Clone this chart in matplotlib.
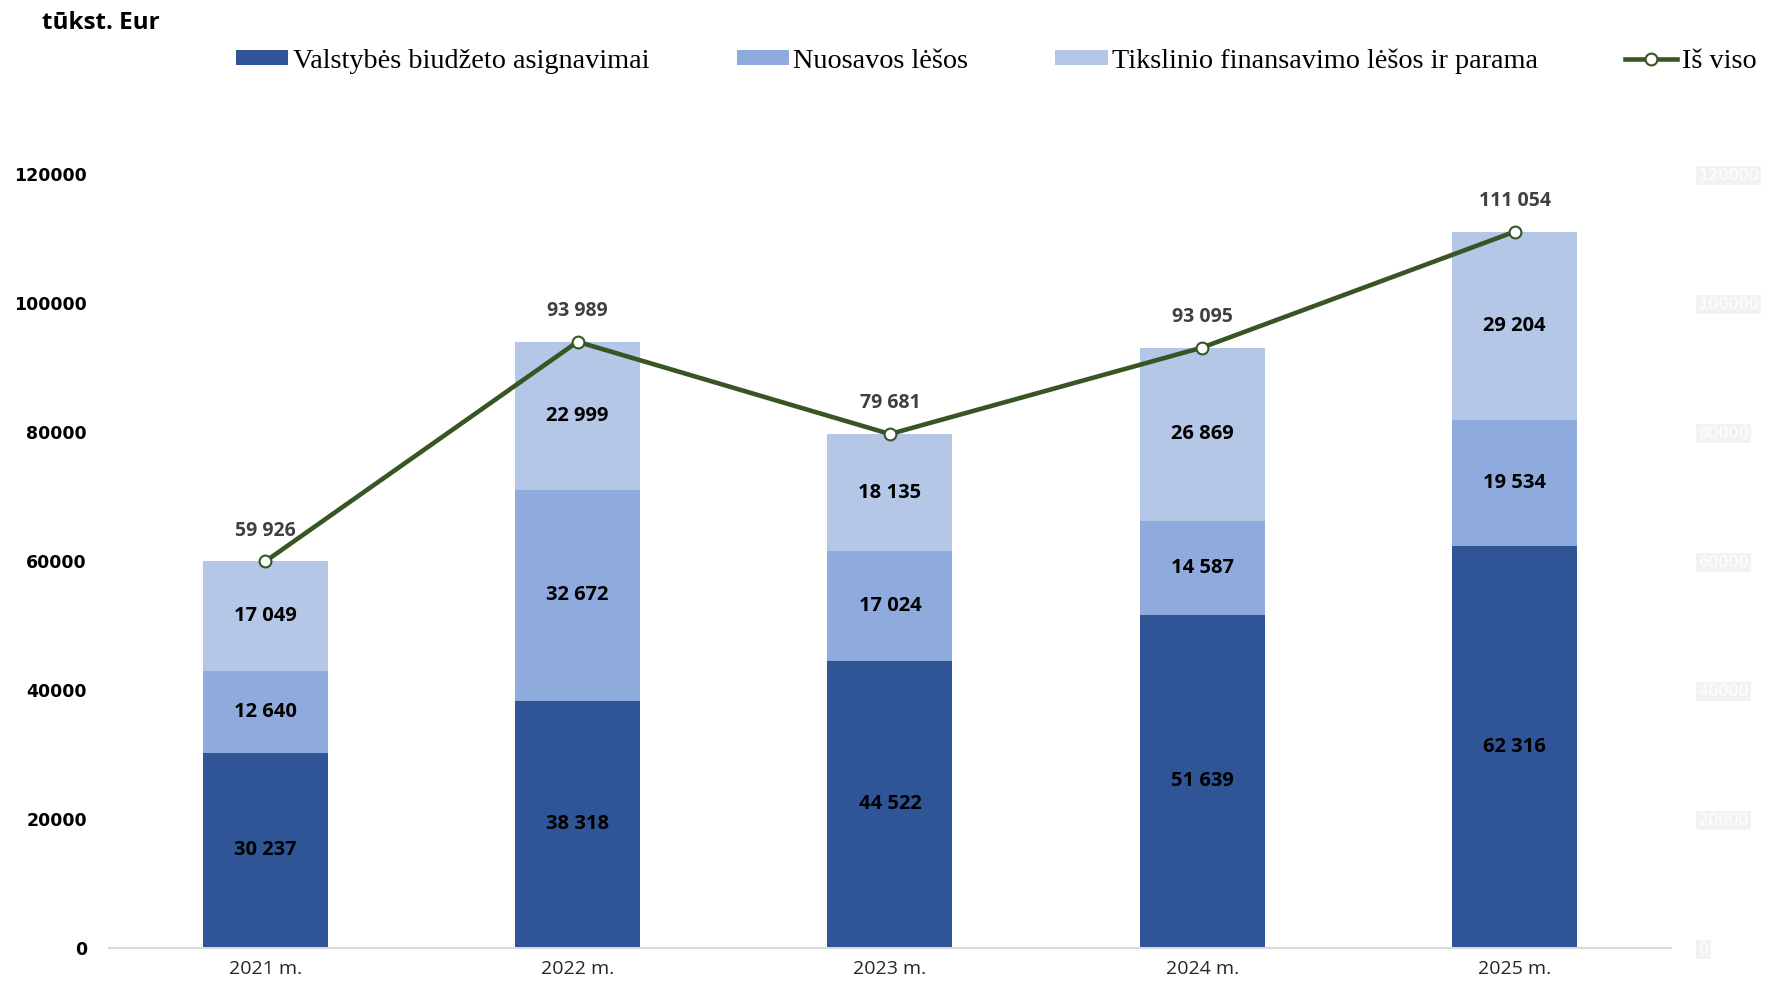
import matplotlib.pyplot as plt
import numpy as np

# duomenys (tūkst. Eur)
metai = ['2021 m.', '2022 m.', '2023 m.', '2024 m.', '2025 m.']
valstybes = [30237, 38318, 44522, 51639, 62316]
nuosavos = [12640, 32672, 17024, 14587, 19534]
tikslinio = [17049, 22999, 18135, 26869, 29204]
is_viso = [59926, 93989, 79681, 93095, 111054]

serijos = ['Valstybės biudžeto asignavimai', 'Nuosavos lėšos',
           'Tikslinio finansavimo lėšos ir parama']
spalvos = ['#2F5597', '#8FAADC', '#B4C7E7']

def fmt(v):
    return f'{v:,}'.replace(',', ' ')

fig = plt.figure(figsize=(17.68, 9.92), dpi=100)
ax = fig.add_axes([0.0617, 0.0444, 0.8833, 0.7802])
x = np.arange(len(metai))

apacia = np.zeros(len(metai))
for vals, name, c in zip([valstybes, nuosavos, tikslinio], serijos, spalvos):
    bars = ax.bar(x, vals, 0.4, bottom=apacia, color=c, label=name, zorder=2)
    for b, v, a in zip(bars, vals, apacia):
        ax.text(b.get_x() + b.get_width() / 2, a + v / 2, fmt(v), ha='center', va='center',
                fontsize=14.5, fontweight='bold', family='Open Sans', color='black', zorder=4)
    apacia += np.array(vals)

ax.plot(x, is_viso, color='#375623', lw=3.3, marker='o', ms=8.5, mfc='white',
        mec='#375623', mew=1.5, label='Iš viso', zorder=3)
for xi, v in zip(x, is_viso):
    ax.annotate(fmt(v), (xi, v), xytext=(0, 22), textcoords='offset points', ha='center',
                va='center', fontsize=14, fontweight='bold', family='Open Sans',
                color='#404040')

ax.set_xlim(-0.5, 4.5)
ax.set_ylim(0, 120000)
ax.set_yticks(np.arange(0, 120001, 20000))
ax.set_xticks(x)
ax.set_xticklabels(metai, fontsize=14, family='Open Sans', color='#262626')
ax.tick_params(axis='y', length=0, pad=16, labelsize=12.5)
for t in ax.get_yticklabels():
    t.set_fontweight('bold')
ax.tick_params(axis='x', length=0, pad=9)
for s in ['top', 'right', 'left']:
    ax.spines[s].set_visible(False)
ax.spines['bottom'].set_color('#d9d9d9')
ax.spines['bottom'].set_linewidth(1.5)

# antra ašis (beveik nematoma)
ax2 = ax.twinx()
ax2.set_ylim(0, 120000)
ax2.set_yticks(np.arange(0, 120001, 20000))
ax2.tick_params(axis='y', length=0, pad=20, labelsize=11.5, labelcolor='white')
for t in ax2.get_yticklabels():
    t.set_bbox(dict(facecolor='#f2f2f2', edgecolor='none', pad=1.5))
for s in ax2.spines.values():
    s.set_visible(False)

fig.text(0.024, 0.977, 'tūkst. Eur', fontsize=17.5, fontweight='bold', family='Open Sans',
         ha='left', va='center')

h, l = ax.get_legend_handles_labels()
h = h[1:] + h[:1]
l = l[1:] + l[:1]
fig.legend(h, l, loc='center', bbox_to_anchor=(0.5635, 0.9385), ncol=4, frameon=False,
           prop={'family': 'Liberation Serif', 'size': 20.3}, columnspacing=3.1,
           handlelength=1.85, handletextpad=0.15, handleheight=0.45, borderpad=0)

fig.savefig('out.png', dpi=100)
